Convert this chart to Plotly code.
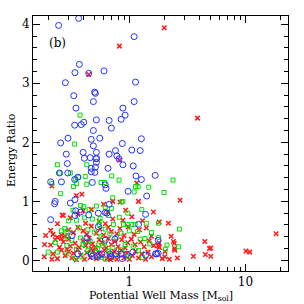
import plotly.graph_objects as go

# ---------------- data ----------------
blue_x = [0.246, 0.366, 1.10, 0.371, 0.34, 0.447, 0.605, 0.281, 1.13, 0.332, 0.503, 0.51, 0.49, 1.10,
          0.347, 0.88, 0.92, 0.85, 0.52, 0.67, 0.405, 0.385, 0.338, 0.70, 0.49,
          0.256, 0.296, 0.47, 0.49, 0.556, 0.87, 1.27, 1.24, 0.76, 0.40,
          0.286, 0.52, 0.67, 0.78, 0.815, 1.05, 0.52, 0.88, 1.08, 0.655, 1.67, 1.27, 0.292,
          0.41, 0.46, 0.52, 0.52, 0.51, 0.47, 0.47, 0.505,
          0.25, 0.295, 0.338, 0.36, 0.26, 0.21, 0.48, 0.62, 0.63, 0.975, 1.41, 1.14,
          0.34, 0.23, 0.227, 0.31, 0.67, 0.345, 0.38, 0.34, 0.447, 0.54, 0.62, 0.64, 0.21,
          1.20, 1.38, 0.54, 0.32, 0.43, 0.62, 0.75, 0.36, 0.58, 0.48, 0.53, 0.68, 0.77, 0.85,
          0.87, 1.07, 0.69, 0.47, 1.77, 1.77, 1.68, 0.55, 0.95, 1.38, 1.72]
blue_y = [3.98, 4.10, 3.79, 3.32, 3.18, 3.17, 3.21, 3.01, 3.02, 2.79, 2.85, 2.83, 2.69, 2.69,
          2.58, 2.58, 2.46, 2.39, 2.38, 2.37, 2.34, 2.30, 2.29, 2.24, 2.20,
          1.99, 2.07, 2.05, 1.94, 2.07, 1.98, 2.06, 1.86, 1.86, 1.83,
          1.80, 1.83, 1.80, 1.77, 1.72, 1.87, 1.73, 1.62, 1.60, 1.56, 1.44, 1.37, 1.64,
          1.73, 1.74, 1.72, 1.66, 1.58, 1.56, 1.50, 1.49,
          1.48, 1.48, 1.37, 1.41, 1.33, 1.33, 1.32, 1.28, 1.22, 1.17, 1.09, 1.43,
          1.03, 1.00, 0.96, 0.97, 0.95, 0.84, 0.82, 0.76, 0.77, 0.80, 0.81, 0.80, 0.69,
          0.61, 0.78, 0.57, 0.42, 0.38, 0.34, 0.36, 0.11, 0.11, 0.07, 0.07, 0.11, 0.11, 0.11,
          0.03, 0.14, 0.06, 0.11, 0.34, 0.12, 0.11, 0.10, 0.10, 0.09, 0.11]

green_x = [0.376, 0.338, 0.24, 0.43, 0.25, 0.31, 0.342, 0.366, 0.35, 0.215, 0.43, 0.33, 0.256,
           0.417, 0.705, 0.57, 0.61, 0.815, 1.13, 1.19, 1.47, 1.10, 0.72, 0.88, 2.38, 1.99,
           0.405, 0.38, 0.327, 0.86, 0.52, 0.62, 0.70, 0.45, 0.82, 0.35, 0.30, 0.41, 0.48, 0.56,
           0.66, 0.97, 1.28, 0.55, 0.73, 0.89, 0.96, 1.05, 1.12, 1.40, 1.78, 0.278, 0.26, 0.29,
           0.37, 0.44, 0.50, 0.62, 0.68, 0.85, 1.00, 1.18, 1.55, 2.70, 0.29, 0.32, 0.38, 0.46,
           0.57, 0.77, 1.36, 1.24, 1.78, 0.23, 0.29, 0.40, 0.54, 0.61, 0.59, 0.72, 0.92, 1.08,
           1.50, 2.11, 2.66, 0.53, 0.35, 0.44, 0.66, 0.84, 1.20, 2.04, 0.20, 0.24, 0.29, 0.48,
           0.39, 0.57, 0.74, 0.98, 1.30, 0.62, 0.34]
green_y = [2.46, 1.97, 1.62, 1.62, 1.48, 1.48, 1.38, 1.41, 1.30, 1.30, 1.29, 1.25, 1.13,
           1.42, 1.43, 1.32, 1.32, 1.36, 1.25, 1.25, 1.24, 1.16, 1.06, 1.00, 1.36, 1.15,
           0.91, 0.93, 0.85, 0.99, 0.92, 0.90, 0.88, 0.86, 0.73, 0.68, 0.67, 0.72, 0.70, 0.71,
           0.76, 0.80, 0.86, 0.61, 0.61, 0.61, 0.61, 0.61, 0.61, 0.63, 0.63, 0.54, 0.50, 0.49,
           0.55, 0.52, 0.48, 0.53, 0.45, 0.46, 0.50, 0.49, 0.47, 0.53, 0.40, 0.34, 0.38, 0.33,
           0.40, 0.39, 0.37, 0.36, 0.39, 0.30, 0.25, 0.27, 0.26, 0.29, 0.25, 0.22, 0.27, 0.24,
           0.28, 0.26, 0.23, 0.20, 0.19, 0.17, 0.16, 0.18, 0.17, 0.19, 0.14, 0.14, 0.12, 0.09,
           0.06, 0.05, 0.08, 0.07, 0.05, 0.02, 0.03]

red_x = [2.0, 0.82, 0.447, 3.86, 0.82, 1.16, 0.215, 0.35, 0.39, 0.72, 2.74,
         0.83, 1.20, 0.60, 0.47, 0.264, 0.27, 0.65, 0.93, 1.61, 0.40,
         0.31, 0.55, 0.72, 0.88, 1.05, 1.81, 2.17, 0.24, 0.42, 0.62, 1.30, 0.36,
         0.19, 0.22, 0.24, 0.26, 0.28, 0.30, 0.33, 0.36, 0.40, 0.43, 0.47, 0.52, 0.56, 0.60,
         0.66, 0.70, 0.78, 0.83, 0.90, 0.98, 1.10, 1.22, 1.40, 1.55, 2.29, 0.21,
         0.186, 0.21, 0.23, 0.25, 0.27, 0.30, 0.31, 0.34, 0.37, 0.40, 0.42, 0.45, 0.48, 0.51,
         0.55, 0.58, 0.63, 0.66, 0.70, 0.75, 0.80, 0.86, 0.92, 0.97, 1.04, 1.12, 1.25, 1.34,
         1.48, 1.62, 1.80, 1.78, 1.81, 2.40, 2.44, 2.45, 4.47, 4.9, 5.03, 0.26, 0.44,
         0.185, 0.215, 0.24, 0.22, 0.26, 0.28, 0.30, 0.32, 0.33, 0.36, 0.38, 0.41, 0.43, 0.46,
         0.49, 0.52, 0.55, 0.58, 0.61, 0.64, 0.67, 0.71, 0.74, 0.78, 0.81, 0.85, 0.90, 0.95,
         1.00, 1.06, 1.13, 1.20, 1.28, 1.38, 1.45, 1.55, 1.92, 2.02, 2.03, 2.21, 2.46, 2.59,
         3.56, 4.52, 5.03, 10.1, 10.9, 18.4, 0.35, 0.69, 0.47, 0.29]
red_y = [3.94, 3.63, 3.15, 2.41, 1.70, 1.31, 1.26, 1.10, 1.12, 1.00, 1.02,
         0.99, 1.00, 0.95, 0.86, 0.77, 0.76, 0.82, 0.85, 0.82, 0.84,
         0.72, 0.66, 0.70, 0.68, 0.74, 0.65, 0.63, 0.62, 0.63, 0.62, 0.67, 0.78,
         0.42, 0.44, 0.39, 0.43, 0.41, 0.52, 0.47, 0.56, 0.50, 0.44, 0.58, 0.46, 0.53, 0.43,
         0.56, 0.49, 0.45, 0.54, 0.42, 0.57, 0.44, 0.52, 0.55, 0.41, 0.41, 0.51,
         0.27, 0.26, 0.35, 0.22, 0.31, 0.36, 0.24, 0.29, 0.22, 0.33, 0.25, 0.38, 0.28, 0.22,
         0.35, 0.30, 0.21, 0.37, 0.27, 0.32, 0.23, 0.35, 0.21, 0.30, 0.36, 0.27, 0.31, 0.23,
         0.33, 0.25, 0.30, 0.25, 0.22, 0.32, 0.29, 0.20, 0.32, 0.20, 0.21, 0.37, 0.31,
         0.06, 0.02, 0.03, 0.11, 0.17, 0.08, 0.15, 0.04, 0.12, 0.18, 0.09, 0.02, 0.13, 0.05,
         0.16, 0.03, 0.12, 0.07, 0.17, 0.03, 0.10, 0.05, 0.15, 0.02, 0.09, 0.17, 0.04, 0.12,
         0.02, 0.08, 0.15, 0.04, 0.11, 0.02, 0.14, 0.06, 0.03, 0.06, 0.15, 0.02, 0.17, 0.04,
         0.07, 0.10, 0.07, 0.16, 0.14, 0.45, 0.01, 0.01, 0.20, 0.19]

x_major = [1, 10]
x_major_text = ["1", "10"]
x_minor = [0.2, 0.3, 0.4, 0.5, 0.6, 0.7, 0.8, 0.9, 2, 3, 4, 5, 6, 7, 8, 9, 20]
y_major = [0, 1, 2, 3, 4]
panel_label = "(b)"
x_title = "Potential Well Mass [M<sub>sol</sub>]"
y_title = "Energy Ratio"

FONT = "DejaVu Serif"

fig = go.Figure()
fig.add_trace(go.Scatter(x=red_x, y=red_y, mode="markers",
                         marker=dict(symbol="x-thin", size=4.5, color="#ff1a1a",
                                     line=dict(width=1.5, color="#ff1a1a"))))
fig.add_trace(go.Scatter(x=green_x, y=green_y, mode="markers",
                         marker=dict(symbol="square-open", size=4, color="#00e000",
                                     line=dict(width=1, color="#00e000"))))
fig.add_trace(go.Scatter(x=blue_x, y=blue_y, mode="markers",
                         marker=dict(symbol="circle-open", size=6, color="#2233ff",
                                     line=dict(width=1, color="#2233ff"))))

fig.update_layout(
    width=304, height=304,
    margin=dict(l=33, r=16, t=16, b=33, autoexpand=False),
    paper_bgcolor="white", plot_bgcolor="white",
    showlegend=False,
    font=dict(family=FONT, size=12, color="black"),
    annotations=[
        dict(text=panel_label, xref="paper", yref="paper", x=0.055, y=0.895,
             xanchor="left", yanchor="middle", showarrow=False,
             font=dict(family=FONT, size=12, color="black")),
        dict(text=x_title, xref="paper", yref="paper", x=0.50, y=-0.098,
             xanchor="center", yanchor="middle", showarrow=False,
             font=dict(family=FONT, size=11, color="black")),
        dict(text=y_title, xref="paper", yref="paper", x=-0.082, y=0.475,
             xanchor="center", yanchor="middle", showarrow=False, textangle=-90,
             font=dict(family=FONT, size=11, color="black")),
    ],
)
fig.update_xaxes(
    type="log", range=[-0.83, 1.367], automargin=False,
    tickmode="array", tickvals=x_major, ticktext=x_major_text,
    ticks="inside", ticklen=7, tickwidth=1, tickcolor="black",
    minor=dict(tickmode="array", tickvals=x_minor, ticks="inside", ticklen=4,
               tickwidth=1, tickcolor="black", showgrid=False),
    showline=True, linecolor="black", linewidth=1, mirror="allticks",
    showgrid=False, zeroline=False,
    tickfont=dict(family=FONT, size=12),
)
fig.update_yaxes(
    range=[-0.18, 4.14], automargin=False,
    tickmode="array", tickvals=y_major,
    ticks="inside", ticklen=7, tickwidth=1, tickcolor="black",
    minor=dict(dtick=0.2, ticks="inside", ticklen=4, tickwidth=1,
               tickcolor="black", showgrid=False),
    showline=True, linecolor="black", linewidth=1, mirror="allticks",
    showgrid=False, zeroline=False,
    tickfont=dict(family=FONT, size=12),
)

fig.write_html("out.html",
               config={"displayModeBar": False},
               post_script="document.body.style.margin='0';document.body.style.overflow='hidden';")
